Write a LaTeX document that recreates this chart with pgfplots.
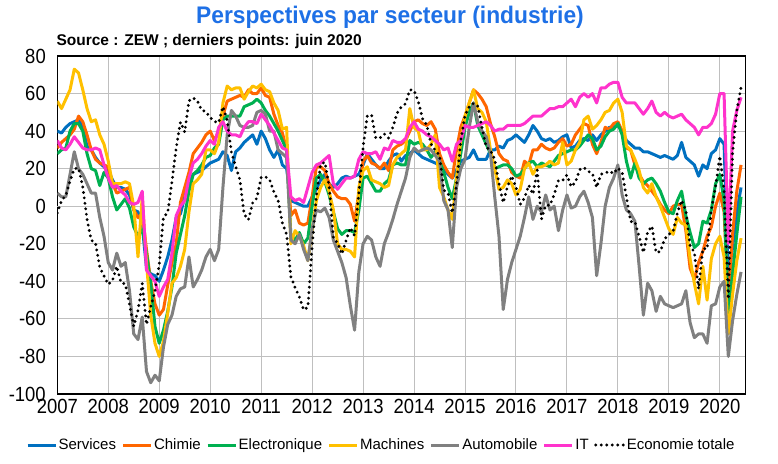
\documentclass[border=0pt]{standalone}
\usepackage{pgfplots}
\usepackage{pgfplotstable}
\pgfplotsset{compat=1.18}
\usepackage{fontspec}
\setmainfont{Liberation Sans}
\newfontfamily\ticknarrow[FakeStretch=0.9]{Liberation Sans}
\newfontfamily\titlefont[FakeStretch=0.95]{Liberation Sans}
\definecolor{cserv}{RGB}{0,112,192}
\definecolor{cchim}{RGB}{255,102,0}
\definecolor{celec}{RGB}{0,176,80}
\definecolor{cmach}{RGB}{255,192,0}
\definecolor{cauto}{RGB}{128,128,128}
\definecolor{cit}{RGB}{255,51,204}
\definecolor{ctitle}{RGB}{30,112,230}

% monthly values, Jan 2007 - Jun 2020
\pgfplotstableread[row sep=\\]{v\\
40\\39\\42\\44\\45\\46\\42\\32\\30\\26\\23\\21\\
19\\14\\10\\10\\9\\6\\-2\\-3\\-10\\-33\\-36\\-37\\
-40\\-34\\-27\\-18\\-6\\-4\\5\\12\\17\\18\\19\\21\\
23\\24\\25\\29\\27\\19\\29\\31\\34\\36\\38\\33\\
40\\36\\30\\26\\30\\22\\20\\3\\2\\1\\0\\0\\
5\\9\\14\\17\\12\\10\\12\\15\\16\\15\\16\\17\\
22\\28\\25\\22\\20\\20\\24\\27\\28\\24\\27\\28\\
30\\28\\26\\25\\24\\23\\22\\20\\17\\15\\19\\24\\
25\\26\\30\\25\\25\\25\\30\\30\\32\\31\\35\\36\\
38\\36\\34\\38\\43\\40\\36\\35\\36\\34\\35\\37\\
38\\31\\32\\35\\36\\35\\38\\35\\38\\40\\42\\42\\
43\\40\\35\\33\\31\\31\\29\\29\\28\\27\\26\\27\\
26\\25\\27\\34\\26\\24\\22\\16\\22\\20\\28\\30\\
36\\33\\-38\\-22\\-3\\10\\
}\serv

\pgfplotstableread[row sep=\\]{v\\
31\\34\\36\\38\\41\\48\\45\\38\\30\\25\\23\\22\\
21\\12\\7\\8\\9\\10\\-2\\-6\\-4\\-23\\-40\\-52\\
-58\\-55\\-42\\-30\\-20\\2\\10\\18\\28\\31\\34\\38\\
40\\35\\40\\48\\56\\57\\58\\59\\58\\62\\60\\60\\
63\\59\\58\\49\\43\\39\\30\\-5\\-2\\-9\\-10\\-9\\
5\\21\\21\\19\\12\\8\\5\\4\\4\\1\\-8\\7\\
24\\27\\23\\22\\20\\23\\19\\30\\32\\33\\35\\40\\
45\\46\\44\\43\\45\\41\\28\\22\\18\\15\\30\\42\\
48\\55\\62\\60\\57\\53\\44\\37\\28\\25\\24\\18\\
16\\15\\24\\22\\30\\30\\33\\31\\30\\31\\34\\36\\
32\\33\\38\\41\\44\\43\\33\\28\\34\\42\\41\\44\\
45\\40\\31\\30\\22\\17\\13\\11\\8\\5\\1\\-2\\
-4\\0\\1\\1\\-13\\-33\\-39\\-30\\-24\\-16\\-11\\0\\
7\\-3\\-52\\-15\\8\\22\\
}\chim

\pgfplotstableread[row sep=\\]{v\\
28\\30\\31\\40\\44\\44\\40\\28\\20\\19\\11\\18\\
15\\5\\-2\\1\\4\\-1\\-11\\-16\\-12\\-25\\-41\\-64\\
-73\\-66\\-56\\-43\\-25\\-15\\-5\\8\\17\\19\\22\\26\\
27\\31\\33\\46\\48\\48\\48\\48\\53\\54\\55\\57\\
55\\51\\48\\44\\40\\35\\30\\-16\\-18\\-14\\-20\\-17\\
0\\15\\17\\13\\6\\-3\\-12\\-15\\-13\\-13\\-14\\-2\\
15\\16\\12\\8\\8\\12\\14\\22\\23\\22\\22\\35\\
33\\34\\33\\30\\26\\29\\24\\18\\10\\4\\15\\28\\
42\\50\\55\\43\\38\\33\\28\\20\\21\\22\\22\\20\\
16\\17\\20\\23\\24\\21\\23\\22\\21\\24\\27\\28\\
29\\30\\30\\32\\35\\38\\36\\30\\32\\37\\40\\41\\
44\\38\\24\\15\\23\\15\\12\\14\\15\\12\\8\\2\\
-3\\-4\\3\\8\\-5\\-14\\-22\\-20\\-8\\-9\\-2\\12\\
17\\3\\-57\\-36\\-15\\5\\
}\elec

\pgfplotstableread[row sep=\\]{v\\
56\\52\\57\\62\\73\\71\\62\\52\\45\\46\\38\\33\\
24\\12\\12\\12\\13\\12\\0\\-27\\5\\-30\\-58\\-73\\
-80\\-72\\-57\\-41\\-38\\-32\\-23\\-3\\12\\14\\17\\30\\
30\\28\\34\\55\\64\\62\\63\\63\\57\\61\\64\\63\\
65\\62\\61\\55\\51\\41\\42\\-20\\-13\\-16\\-21\\-29\\
-13\\3\\10\\14\\8\\-2\\-20\\-23\\-23\\-24\\-27\\10\\
19\\21\\14\\13\\12\\10\\11\\22\\26\\28\\30\\52\\
42\\40\\30\\30\\33\\38\\10\\5\\-2\\-7\\15\\35\\
48\\55\\62\\52\\50\\45\\30\\20\\9\\10\\14\\12\\
6\\9\\20\\23\\17\\21\\21\\22\\24\\22\\23\\34\\
22\\24\\30\\34\\46\\48\\41\\43\\46\\50\\51\\55\\
57\\50\\32\\30\\25\\19\\10\\7\\12\\5\\0\\-6\\
-12\\-15\\-6\\-9\\-10\\-28\\-41\\-52\\-32\\-50\\-28\\-20\\
-16\\-27\\-68\\-47\\-29\\-17\\
}\mach

\pgfplotstableread[row sep=\\]{v\\
7\\5\\5\\17\\29\\20\\17\\12\\7\\7\\-6\\-16\\
-30\\-34\\-25\\-32\\-30\\-45\\-68\\-71\\-59\\-88\\-94\\-90\\
-93\\-75\\-63\\-58\\-48\\-44\\-43\\-27\\-43\\-39\\-34\\-27\\
-23\\-29\\-23\\10\\38\\51\\48\\43\\42\\42\\43\\50\\
51\\49\\40\\40\\30\\28\\26\\-18\\-20\\-15\\-23\\-29\\
-12\\-2\\-3\\-1\\-6\\-18\\-24\\-30\\-38\\-53\\-66\\-35\\
-20\\-16\\-18\\-27\\-32\\-20\\-14\\-7\\1\\8\\15\\26\\
31\\29\\30\\31\\30\\27\\24\\3\\-2\\-22\\10\\20\\
25\\42\\55\\45\\40\\37\\28\\5\\-16\\-55\\-39\\-30\\
-23\\-16\\-6\\5\\-7\\0\\-3\\6\\-2\\0\\-13\\-2\\
6\\-1\\0\\5\\8\\2\\-6\\-37\\-20\\0\\10\\15\\
22\\6\\-2\\-4\\-8\\-32\\-58\\-41\\-45\\-56\\-48\\-52\\
-53\\-54\\-53\\-52\\-45\\-62\\-70\\-68\\-68\\-73\\-53\\-52\\
-43\\-40\\-80\\-61\\-47\\-35\\
}\auto

\pgfplotstableread[row sep=\\]{v\\
35\\31\\30\\33\\37\\34\\31\\30\\30\\31\\30\\22\\
15\\10\\11\\8\\6\\2\\1\\2\\8\\-34\\-37\\-40\\
-48\\-43\\-39\\-25\\-5\\0\\3\\15\\23\\25\\28\\32\\
35\\33\\42\\45\\40\\38\\38\\37\\42\\45\\45\\44\\
49\\46\\43\\39\\35\\31\\30\\5\\3\\4\\2\\10\\
18\\22\\23\\25\\27\\12\\9\\12\\15\\15\\16\\25\\
29\\28\\28\\29\\25\\31\\30\\35\\34\\34\\36\\42\\
45\\41\\40\\38\\37\\35\\33\\30\\31\\24\\33\\35\\
43\\42\\42\\43\\44\\45\\43\\40\\41\\41\\43\\43\\
43\\43\\44\\46\\48\\48\\48\\50\\52\\52\\53\\53\\
55\\57\\53\\58\\60\\58\\60\\55\\63\\63\\65\\66\\
66\\58\\55\\55\\55\\52\\49\\52\\56\\50\\48\\50\\
48\\47\\48\\49\\46\\44\\42\\38\\42\\42\\44\\49\\
60\\60\\-20\\40\\51\\58\\
}\it

\pgfplotstableread[row sep=\\]{v\\
-3.6\\3.0\\5.8\\13.5\\20.0\\20.3\\10.4\\-6.9\\-18.1\\-19.6\\-32.5\\-37.2\\
-41.6\\-39.5\\-32.0\\-40.7\\-41.4\\-52.4\\-63.9\\-55.5\\-41.1\\-63.0\\-53.5\\-45.2\\
-31.0\\-5.8\\-3.5\\13.0\\31.1\\44.8\\39.5\\56.1\\57.7\\56.0\\51.1\\50.4\\
47.2\\45.1\\44.5\\53.0\\45.8\\28.7\\21.2\\14.0\\-4.3\\-7.2\\1.8\\4.3\\
15.4\\15.7\\14.1\\7.6\\3.1\\-9.0\\-15.1\\-37.6\\-43.3\\-48.3\\-55.2\\-53.8\\
-21.6\\5.4\\22.3\\23.4\\10.8\\-16.9\\-19.6\\-25.5\\-18.2\\-11.5\\-15.7\\6.9\\
31.5\\48.2\\48.5\\36.3\\36.4\\38.5\\36.3\\42.0\\49.6\\52.8\\54.6\\62.0\\
61.7\\55.7\\46.6\\43.2\\33.1\\29.8\\27.1\\8.6\\6.9\\-3.6\\11.5\\34.9\\
48.4\\53.0\\54.8\\53.3\\41.9\\31.5\\29.7\\25.0\\12.1\\1.9\\10.4\\16.1\\
10.2\\1.0\\4.3\\11.2\\6.4\\19.2\\-6.8\\0.5\\0.5\\6.2\\13.8\\13.8\\
16.6\\10.4\\12.8\\19.5\\20.6\\18.6\\17.5\\10.0\\17.0\\17.6\\18.7\\17.4\\
20.4\\17.8\\5.1\\-8.2\\-8.2\\-16.1\\-24.7\\-13.7\\-10.6\\-24.7\\-24.1\\-17.5\\
-15.0\\-13.4\\-3.6\\3.1\\-2.1\\-21.1\\-24.5\\-44.1\\-22.5\\-22.8\\-2.1\\10.7\\
26.7\\8.7\\-49.5\\28.2\\51.0\\63.4\\
}\eco

\begin{document}
\begin{tikzpicture}[x=1pt,y=1pt]
\useasboundingbox (0,0) rectangle (778,463);
\node[font=\titlefont\bfseries\fontsize{24}{24}\selectfont, text=ctitle] at (390,446) {Perspectives par secteur (industrie)};
\node[anchor=west, font=\bfseries\fontsize{15.5}{15.5}\selectfont] at (53,422) {Source : ZEW ; derniers points: juin 2020};
\begin{axis}[
  at={(57.3pt,69pt)}, anchor=south west,
  scale only axis, width=688pt, height=338pt,
  xmin=0, xmax=162, ymin=-100, ymax=80,
  xtick={0,12,24,36,48,60,72,84,96,108,120,132,144,156},
  xticklabels={2007,2008,2009,2010,2011,2012,2013,2014,2015,2016,2017,2018,2019,2020},
  ytick={-100,-80,-60,-40,-20,0,20,40,60,80},
  yticklabels={-100,-80,-60,-40,-20,0,20,40,60,80},
  grid=major, major grid style={color=gray!50, line width=1pt},
  major tick length=0pt,
  axis line style={black, line width=1.5pt},
  tick label style={font=\ticknarrow\fontsize{20.5}{20.5}\selectfont},
  yticklabel style={xshift=-8pt},
  xticklabel style={yshift=-1.5pt},
  extra y ticks={0}, extra y tick labels={},
  extra y tick style={grid style={black, line width=1pt}},
  legend columns=-1,
  legend style={at={(0.4705,-0.151)}, anchor=center, draw=none, fill=none,
    font=\fontsize{15}{15}\selectfont, inner sep=0pt,
    nodes={inner sep=1.5pt},
    /tikz/every even column/.append style={column sep=4pt}},
  legend image code/.code={\draw[#1] (0pt,0pt) -- (28pt,0pt);},
  every axis plot/.append style={line width=3pt, line join=round},
]
\addplot[cserv] table[x expr=\coordindex, y=v] {\serv};
\addplot[cchim] table[x expr=\coordindex, y=v] {\chim};
\addplot[celec] table[x expr=\coordindex, y=v] {\elec};
\addplot[cmach] table[x expr=\coordindex, y=v] {\mach};
\addplot[cauto] table[x expr=\coordindex, y=v] {\auto};
\addplot[cit] table[x expr=\coordindex, y=v] {\it};
\addplot[black, line width=3.2pt, line cap=round, dash pattern=on 0pt off 5.5pt] table[x expr=\coordindex, y=v] {\eco};
\legend{Services,Chimie,Electronique,Machines,Automobile,IT,Economie totale}
\end{axis}
\end{tikzpicture}
\end{document}
